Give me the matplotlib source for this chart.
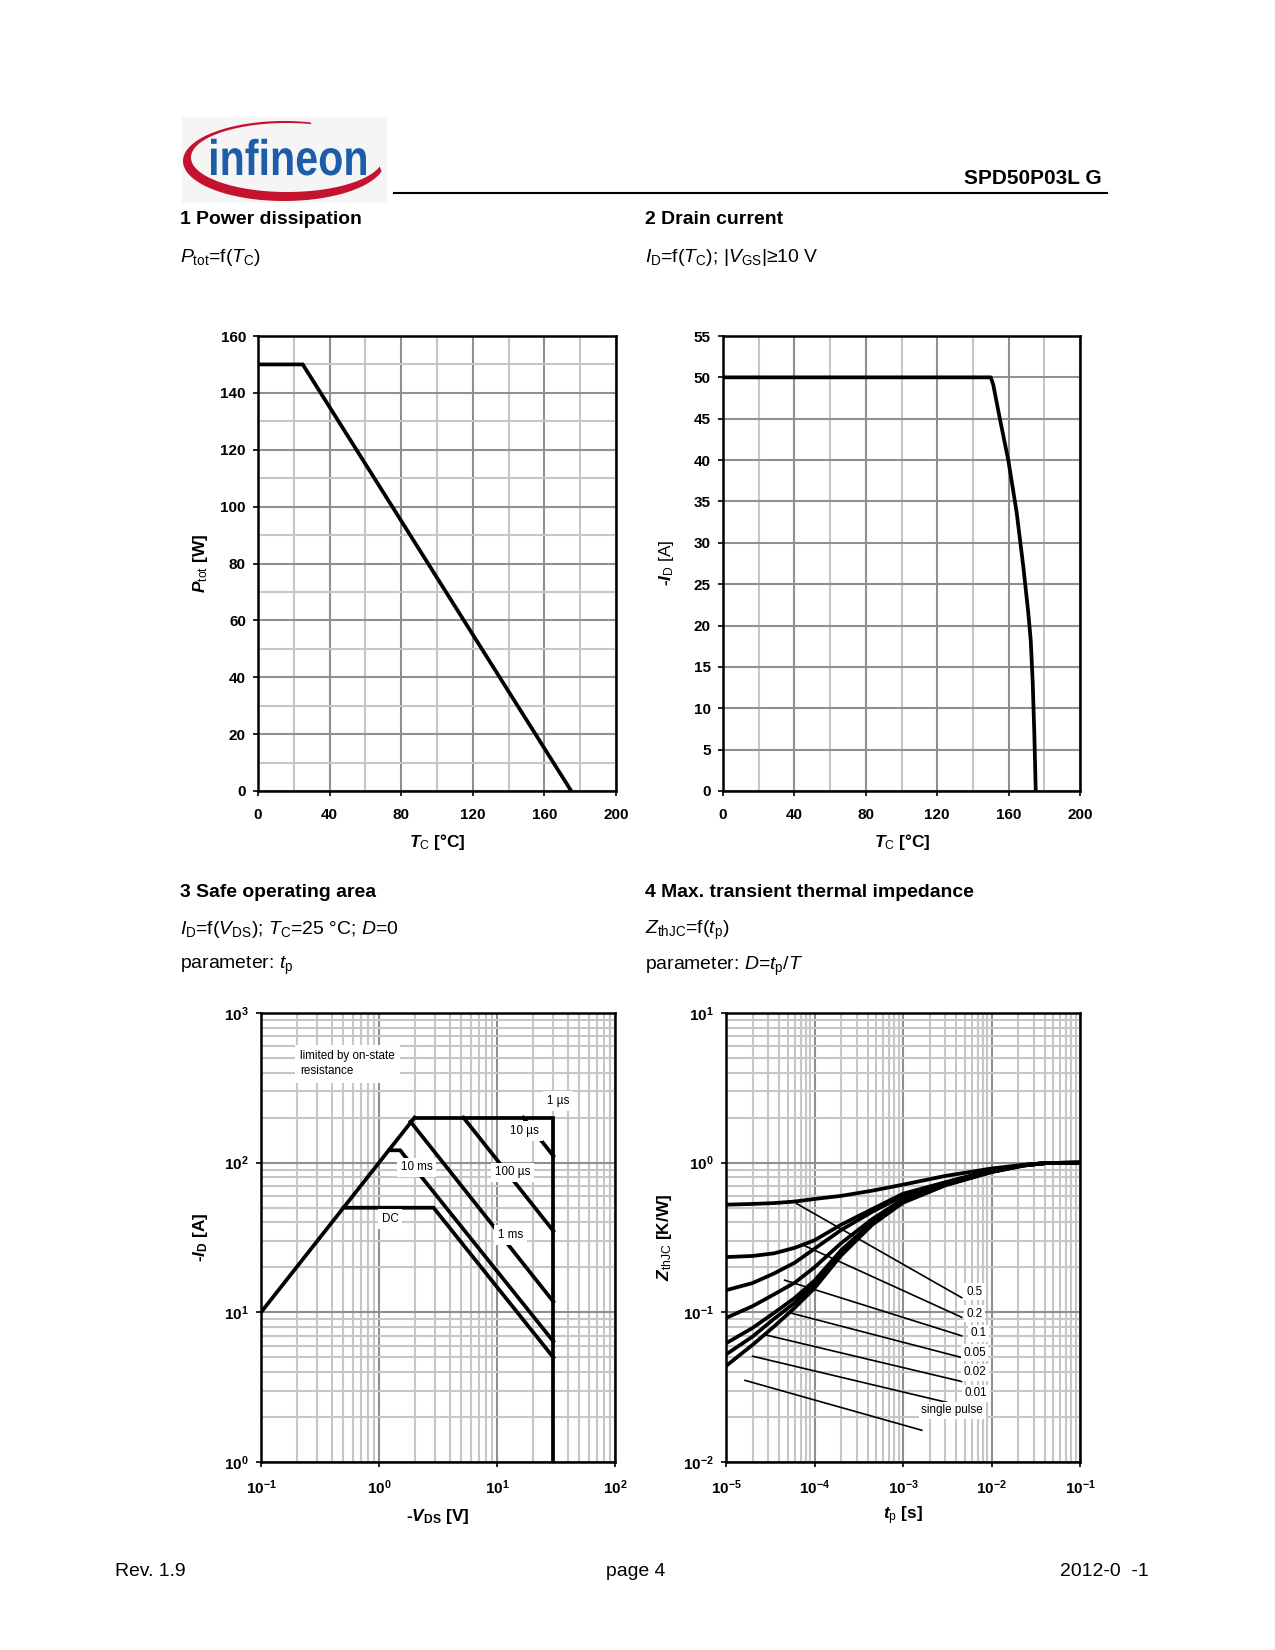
import numpy as np
import matplotlib.pyplot as plt
from matplotlib.textpath import TextPath
from matplotlib.patches import PathPatch, Rectangle
from matplotlib.font_manager import FontProperties
from matplotlib.transforms import Affine2D

plt.rcParams['font.family'] = ['Liberation Sans', 'DejaVu Sans']
plt.rcParams['mathtext.fontset'] = 'custom'
plt.rcParams['mathtext.rm'] = 'Liberation Sans'
plt.rcParams['mathtext.it'] = 'Liberation Sans:italic'
plt.rcParams['mathtext.bf'] = 'Liberation Sans:bold'
plt.rcParams['mathtext.bfit'] = 'Liberation Sans:italic:bold'

W, H = 1275, 1650

# ---- data ----
# 1 power dissipation
tc_ptot = [0, 25, 175]
ptot = [150, 150, 0]

# 2 drain current
tc_id = [0, 150, 151.4, 155.2, 159.9, 164.5, 168.3, 171.0, 172.4, 173.5, 174.4, 175.2]
id_max = [50, 50, 49.1, 44.9, 39.9, 33.7, 27.0, 21.6, 18.2, 13.2, 7.0, 0]

tc_ticks = [0, 40, 80, 120, 160, 200]
ptot_ticks = [0, 20, 40, 60, 80, 100, 120, 140, 160]
id_ticks = [0, 5, 10, 15, 20, 25, 30, 35, 40, 45, 50, 55]

# 3 safe operating area
vds_rds = [0.1, 2.0]
id_rds = [10, 200]
vds_1us = [2.0, 30, 30]
id_1us = [200, 200, 1]
vds_10us = [16.7, 30]
id_10us = [200, 111]
vds_100us = [5.2, 30]
id_100us = [200, 35]
vds_1ms = [1.85, 30]
id_1ms = [188, 11.8]
vds_10ms = [1.23, 1.51, 30]
id_10ms = [121, 121, 6.4]
vds_dc = [0.5, 2.9, 30]
id_dc = [50, 50, 5.0]

soa_labels = ['1 µs', '10 µs', '100 µs', '10 ms', 'DC', '1 ms']
soa_lab_x = [33.1, 17.1, 13.5, 2.09, 1.245, 13.1]
soa_lab_y = [259, 163, 86, 93, 41.9, 32.8]

vds_ticks = [0.1, 1, 10, 100]
vds_ticklabels = [r'$\mathbf{10^{-1}}$', r'$\mathbf{10^{0}}$', r'$\mathbf{10^{1}}$', r'$\mathbf{10^{2}}$']
soa_id_ticks = [1, 10, 100, 1000]
soa_id_ticklabels = [r'$\mathbf{10^{0}}$', r'$\mathbf{10^{1}}$', r'$\mathbf{10^{2}}$', r'$\mathbf{10^{3}}$']

# 4 transient thermal impedance
tp = [1e-5, 2e-5, 3.5e-5, 6e-5, 1e-4, 2e-4, 4.5e-4, 1e-3, 3e-3, 1e-2, 2.3e-2, 4.2e-2, 1e-1]
z_d05 = [0.524, 0.530, 0.537, 0.550, 0.572, 0.600, 0.650, 0.713, 0.815, 0.914, 0.968, 0.995, 1.0]
z_d02 = [0.234, 0.238, 0.248, 0.270, 0.303, 0.385, 0.490, 0.620, 0.740, 0.890, 0.965, 0.995, 1.0]
z_d01 = [0.1405, 0.157, 0.182, 0.215, 0.266, 0.355, 0.470, 0.600, 0.735, 0.885, 0.963, 0.995, 1.0]
z_d005 = [0.0917, 0.110, 0.132, 0.158, 0.200, 0.290, 0.420, 0.570, 0.725, 0.875, 0.960, 0.995, 1.0]
z_d002 = [0.0621, 0.0787, 0.0992, 0.125, 0.163, 0.260, 0.400, 0.550, 0.715, 0.870, 0.958, 0.995, 1.0]
z_d001 = [0.0523, 0.0689, 0.0906, 0.116, 0.155, 0.250, 0.393, 0.545, 0.710, 0.867, 0.957, 0.995, 1.0]
z_single = [0.0438, 0.0607, 0.0805, 0.1075, 0.145, 0.240, 0.385, 0.540, 0.705, 0.865, 0.955, 0.995, 1.0]

zth_labels = ['0.5', '0.2', '0.1', '0.05', '0.02', '0.01', 'single pulse']
ann_x0 = [6.3e-5, 7.8e-5, 4.6e-5, 5.3e-5, 2.76e-5, 2.0e-5, 1.64e-5]
ann_y0 = [0.532, 0.278, 0.164, 0.0992, 0.0708, 0.0509, 0.0351]
ann_x1 = [4.6e-3, 4.6e-3, 4.6e-3, 4.6e-3, 4.6e-3, 4.6e-3, 1.63e-3]
ann_y1 = [0.1253, 0.0927, 0.0697, 0.0499, 0.0345, 0.0237, 0.0163]
lab_x = [6.5e-3, 6.5e-3, 7.1e-3, 6.4e-3, 6.5e-3, 6.7e-3, 3.6e-3]
lab_y = [0.1377, 0.0977, 0.0726, 0.0537, 0.0399, 0.0288, 0.0222]

tp_ticks = [1e-5, 1e-4, 1e-3, 1e-2, 1e-1]
tp_ticklabels = [r'$\mathbf{10^{-5}}$', r'$\mathbf{10^{-4}}$', r'$\mathbf{10^{-3}}$',
                 r'$\mathbf{10^{-2}}$', r'$\mathbf{10^{-1}}$']
zth_ticks = [0.01, 0.1, 1, 10]
zth_ticklabels = [r'$\mathbf{10^{-2}}$', r'$\mathbf{10^{-1}}$', r'$\mathbf{10^{0}}$', r'$\mathbf{10^{1}}$']

DARK = '#8f8f8f'
LIGHT = '#c6c6c6'
LW = 1.8


def px(x, y):
    return x / W, 1 - y / H


def style(ax):
    for s in ax.spines.values():
        s.set_linewidth(1.2)
        s.set_color('black')
    ax.tick_params(which='major', direction='out', length=2.5, width=0.8, labelsize=7.3, pad=3.3)
    ax.tick_params(axis='x', which='major', pad=5.5)
    ax.tick_params(which='minor', length=0)
    ax.set_axisbelow(True)
    ax.grid(True, which='major', color=DARK, lw=1.0)
    ax.grid(True, which='minor', color=LIGHT, lw=1.0)


fig = plt.figure(figsize=(W / 150, H / 150), dpi=150)

# ---- page decoration ----
page = fig.add_axes([0, 0, 1, 1], zorder=-1)
page.set_xlim(0, W)
page.set_ylim(H, 0)
page.axis('off')

page.add_patch(Rectangle((182, 117), 205, 86, facecolor='#f5f5f5', edgecolor='none'))
t = np.radians(np.linspace(75, 345, 200))
outer_x = 284 + 101 * np.cos(t)
outer_y = 161 - 40 * np.sin(t)
inner_x = 287 + 96 * np.cos(t)
inner_y = 157.5 - 34.5 * np.sin(t)
page.fill(np.concatenate([outer_x, inner_x[::-1]]), np.concatenate([outer_y, inner_y[::-1]]),
          color='#c4122f', lw=0)
tpath = TextPath((0, 0), 'infineon', size=1, prop=FontProperties(family='Liberation Sans', weight='bold'))
ext = tpath.get_extents()
sx = 155 / ext.width
tr = Affine2D().translate(-ext.x0, 0).scale(sx, -50).translate(211, 175)
page.add_patch(PathPatch(tr.transform_path(tpath), facecolor='#1d5ca8', edgecolor='none'))

page.plot([394, 1107], [192.5, 192.5], color='black', lw=1.0)
fig.text(*px(1102, 179), 'SPD50P03L G', ha='right', va='center', fontsize=10, fontweight='bold')

fig.text(*px(180, 219), '1 Power dissipation', ha='left', va='center', fontsize=9.3, fontweight='bold')
fig.text(*px(645, 219), '2 Drain current', ha='left', va='center', fontsize=9.3, fontweight='bold')
fig.text(*px(180, 258), r'$\mathit{P}_{\mathrm{tot}}$=f($\mathit{T}_{\mathrm{C}}$)', ha='left', va='center', fontsize=9.3)
fig.text(*px(645, 258), r'$\mathit{I}_{\mathrm{D}}$=f($\mathit{T}_{\mathrm{C}}$); |$\mathit{V}_{\mathrm{GS}}$|≥10 V',
         ha='left', va='center', fontsize=9.3)

fig.text(*px(180, 892), '3 Safe operating area', ha='left', va='center', fontsize=9.3, fontweight='bold')
fig.text(*px(645, 892), '4 Max. transient thermal impedance', ha='left', va='center', fontsize=9.3, fontweight='bold')
fig.text(*px(180, 930), r'$\mathit{I}_{\mathrm{D}}$=f($\mathit{V}_{\mathrm{DS}}$); $\mathit{T}_{\mathrm{C}}$=25 °C; $\mathit{D}$=0',
         ha='left', va='center', fontsize=9.3)
fig.text(*px(645, 930), r'$\mathit{Z}_{\mathrm{thJC}}$=f($\mathit{t}_{\mathrm{p}}$)', ha='left', va='center', fontsize=9.3)
fig.text(*px(180, 966), r'parameter: $\mathit{t}_{\mathrm{p}}$', ha='left', va='center', fontsize=9.3)
fig.text(*px(645, 966), r'parameter: $\mathit{D}$=$\mathit{t}_{\mathrm{p}}$/$\mathit{T}$', ha='left', va='center', fontsize=9.3)

fig.text(*px(115, 1571), 'Rev. 1.9', ha='left', va='center', fontsize=9.3)
fig.text(*px(636, 1571), 'page 4', ha='center', va='center', fontsize=9.3)
fig.text(*px(1149, 1571), '2012-0  -1', ha='right', va='center', fontsize=9.3)

# ---- 1 power dissipation ----
ax1 = fig.add_axes([258 / W, 1 - 791 / H, 358 / W, 455 / H])
ax1.plot(tc_ptot, ptot, color='black', lw=LW, solid_joinstyle='miter')
ax1.set_xlim(0, 200)
ax1.set_ylim(0, 160)
ax1.set_xticks(tc_ticks, [str(v) for v in tc_ticks], fontweight='bold')
ax1.set_yticks(ptot_ticks, [str(v) for v in ptot_ticks], fontweight='bold')
ax1.set_xticks(range(20, 200, 40), minor=True)
ax1.set_yticks(range(10, 160, 20), minor=True)
style(ax1)
fig.text(*px(437, 842), r'$\mathbfit{T}_{\mathrm{C}}$ [°C]', ha='center', va='center', fontsize=8.3, fontweight='bold')
fig.text(*px(200, 563), r'$\mathbfit{P}_{\mathrm{tot}}$ [W]', ha='center', va='center', rotation=90,
         fontsize=8.3, fontweight='bold')

# ---- 2 drain current ----
ax2 = fig.add_axes([723 / W, 1 - 791 / H, 357 / W, 455 / H])
ax2.plot(tc_id, id_max, color='black', lw=LW)
ax2.set_xlim(0, 200)
ax2.set_ylim(0, 55)
ax2.set_xticks(tc_ticks, [str(v) for v in tc_ticks], fontweight='bold')
ax2.set_yticks(id_ticks, [str(v) for v in id_ticks], fontweight='bold')
ax2.set_xticks(range(20, 200, 40), minor=True)
style(ax2)
fig.text(*px(902, 842), r'$\mathbfit{T}_{\mathrm{C}}$ [°C]', ha='center', va='center', fontsize=8.3, fontweight='bold')
fig.text(*px(666, 563), r'-$\mathbfit{I}_{\mathrm{D}}$ $\mathrm{[A]}$', ha='center', va='center', rotation=90,
         fontsize=8.3, fontweight='bold')

# ---- 3 safe operating area ----
ax3 = fig.add_axes([261 / W, 1 - 1462 / H, 354 / W, 449 / H])
ax3.set_xscale('log')
ax3.set_yscale('log')
for xs, ys in [(vds_rds, id_rds), (vds_1us, id_1us), (vds_10us, id_10us), (vds_100us, id_100us),
               (vds_1ms, id_1ms), (vds_10ms, id_10ms), (vds_dc, id_dc)]:
    ax3.plot(xs, ys, color='black', lw=LW, solid_joinstyle='miter')
ax3.set_xlim(0.1, 100)
ax3.set_ylim(1, 1000)
ax3.set_xticks(vds_ticks, vds_ticklabels)
ax3.set_yticks(soa_id_ticks, soa_id_ticklabels)
style(ax3)
ax3.text(0.215, 458, 'limited by on-state\nresistance', ha='left', va='center', fontsize=5.6,
         linespacing=1.35, zorder=5, bbox=dict(facecolor='white', edgecolor='none', pad=2.5))
for lab, x, y in zip(soa_labels, soa_lab_x, soa_lab_y):
    ax3.text(x, y, lab, ha='center', va='center', fontsize=5.6, zorder=5,
             bbox=dict(facecolor='white', edgecolor='none', pad=1.8))
fig.text(*px(438, 1516), r'-$\mathbfit{V}_{\mathbf{DS}}$ [V]', ha='center', va='center', fontsize=8.3, fontweight='bold')
fig.text(*px(200, 1237), r'-$\mathbfit{I}_{\mathbf{D}}$ [A]', ha='center', va='center', rotation=90,
         fontsize=8.3, fontweight='bold')

# ---- 4 transient thermal impedance ----
ax4 = fig.add_axes([726 / W, 1 - 1462 / H, 354 / W, 449 / H])
ax4.set_xscale('log')
ax4.set_yscale('log')
for zs in [z_d05, z_d02, z_d01, z_d005, z_d002, z_d001, z_single]:
    ax4.plot(tp, zs, color='black', lw=LW)
for x0, y0, x1, y1 in zip(ann_x0, ann_y0, ann_x1, ann_y1):
    ax4.plot([x0, x1], [y0, y1], color='black', lw=0.8)
for lab, x, y in zip(zth_labels, lab_x, lab_y):
    ax4.text(x, y, lab, ha='center', va='center', fontsize=5.6, zorder=5,
             bbox=dict(facecolor='white', edgecolor='none', pad=1.2))
ax4.set_xlim(1e-5, 1e-1)
ax4.set_ylim(1e-2, 10)
ax4.set_xticks(tp_ticks, tp_ticklabels)
ax4.set_yticks(zth_ticks, zth_ticklabels)
style(ax4)
fig.text(*px(903, 1516), r'$\mathbfit{t}_{\mathrm{p}}$ [s]', ha='center', va='center', fontsize=8.3, fontweight='bold')
fig.text(*px(664, 1237), r'$\mathbfit{Z}_{\mathrm{thJC}}$ [K/W]', ha='center', va='center', rotation=90,
         fontsize=8.3, fontweight='bold')

fig.savefig('out.png', dpi=150)
